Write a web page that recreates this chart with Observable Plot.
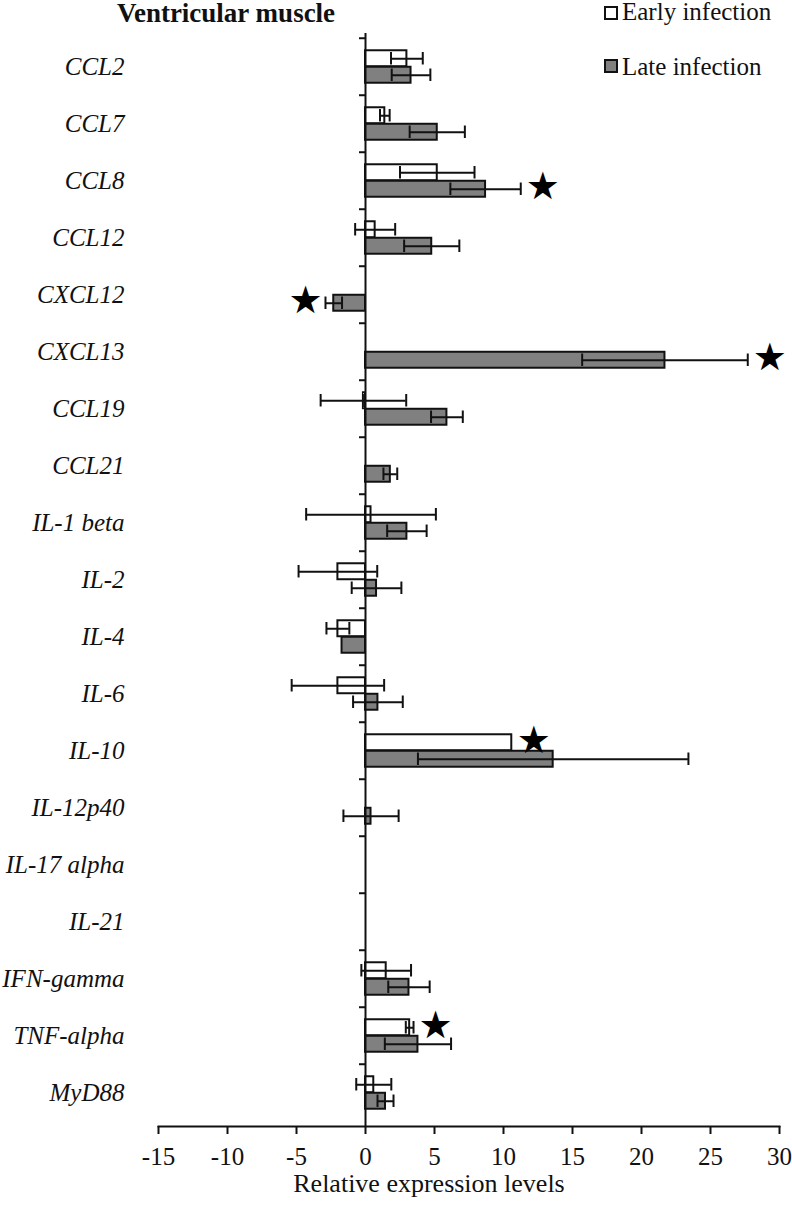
<!DOCTYPE html>
<html>
<head>
<meta charset="utf-8">
<script src="https://cdn.jsdelivr.net/npm/d3@7"></script>
<script src="https://cdn.jsdelivr.net/npm/@observablehq/plot@0.6"></script>
<style>
  html, body { margin: 0; padding: 0; background: #fff; }
  #wrap { position: relative; width: 792px; height: 1206px; font-family: "Liberation Serif", "Times New Roman", serif; color: #111; }
  #chart { position: absolute; left: 0; top: 0; }
  .title { position: absolute; left: 0; width: 452px; top: 0; text-align: center; font-size: 27px; font-weight: bold; line-height: 27px; }
  .leg { position: absolute; left: 604px; font-size: 25px; line-height: 22px; white-space: nowrap; }
  .leg .box { position: absolute; left: 0; width: 10px; height: 10px; border: 2px solid #111; }
  .leg .lab { position: absolute; left: 18px; top: 0; }
</style>
</head>
<body>
<div id="wrap">
  <div id="chart"></div>
  <div class="title">Ventricular muscle</div>
  <div class="leg" style="top:1px"><div class="box" style="top:5px;background:#fff"></div><div class="lab">Early infection</div></div>
  <div class="leg" style="top:56px"><div class="box" style="top:3px;background:#808080"></div><div class="lab">Late infection</div></div>
</div>
<script>
// ---- data ----
const genes = ["CCL2","CCL7","CCL8","CCL12","CXCL12","CXCL13","CCL19","CCL21","IL-1 beta","IL-2","IL-4","IL-6","IL-10","IL-12p40","IL-17 alpha","IL-21","IFN-gamma","TNF-alpha","MyD88"];
const seriesNames = ["Early infection", "Late infection"];
const earlyValues = [3.0, 1.4, 5.2, 0.7, 0, 0, -0.15, 0, 0.4, -2.0, -2.0, -2.0, 10.6, 0, 0, 0, 1.5, 3.2, 0.6];
const earlyErrors = [1.15, 0.35, 2.7, 1.45, 0, 0, 3.1, 0, 4.7, 2.85, 0.83, 3.35, 0, 0, 0, 0, 1.8, 0.28, 1.27];
const lateValues  = [3.3, 5.2, 8.7, 4.8, -2.3, 21.7, 5.9, 1.8, 3.0, 0.8, -1.7, 0.9, 13.6, 0.4, 0, 0, 3.15, 3.8, 1.45];
const lateErrors  = [1.4, 2.0, 2.55, 2.0, 0.6, 6.0, 1.15, 0.5, 1.43, 1.8, 0, 1.8, 9.8, 2.0, 0, 0, 1.5, 2.4, 0.58];
const significant = [["CCL8", "Late infection"], ["CXCL12", "Late infection"], ["CXCL13", "Late infection"], ["IL-10", "Early infection"], ["TNF-alpha", "Early infection"]];
const xTicks = [-15, -10, -5, 0, 5, 10, 15, 20, 25, 30];
const xDomain = [-15, 30];
const xLabel = "Relative expression levels";

// ---- build table ----
const rows = genes.flatMap((g, i) => [
  {gene: g, series: seriesNames[0], value: earlyValues[i], err: earlyErrors[i]},
  {gene: g, series: seriesNames[1], value: lateValues[i], err: lateErrors[i]}
]);
const early = rows.filter(d => d.series === seriesNames[0]);
const late = rows.filter(d => d.series === seriesNames[1]);

const W = 792, H = 1206, mT = 33, mB = 80, mL = 158, mR = 13;
const band = (H - mT - mB) / genes.length;
const half = band / 2, barH = 16.5, capH = 13;
const off = barH / 2;

function seriesMarks(data, isEarly, fill) {
  const bTop = isEarly ? half - barH : half;
  const bBot = isEarly ? half : half - barH;
  const cTop = isEarly ? half - off - capH / 2 : half + off - capH / 2;
  const cBot = isEarly ? half + off - capH / 2 : half - off - capH / 2;
  const withErr = data.filter(d => d.err > 0);
  return [
    Plot.barX(data.filter(d => d.value !== 0), {x: "value", y: "gene", fill, stroke: "#111", strokeWidth: 2, insetTop: bTop, insetBottom: bBot}),
    Plot.ruleY(withErr, {y: "gene", x1: d => d.value - d.err, x2: d => d.value + d.err, dy: isEarly ? -off : off, stroke: "#111", strokeWidth: 2}),
    Plot.tickX(withErr, {x: d => d.value - d.err, y: "gene", insetTop: cTop, insetBottom: cBot, stroke: "#111", strokeWidth: 2}),
    Plot.tickX(withErr, {x: d => d.value + d.err, y: "gene", insetTop: cTop, insetBottom: cBot, stroke: "#111", strokeWidth: 2})
  ];
}

const starMarks = significant.map(([g, s]) => {
  const d = rows.find(r => r.gene === g && r.series === s);
  const neg = d.value < 0;
  return Plot.text([d], {
    x: r => neg ? r.value - r.err : r.value + r.err,
    y: "gene", text: () => "\u2605",
    dx: neg ? -3 : 5, dy: s === seriesNames[0] ? -off - 2 : off - 2,
    textAnchor: neg ? "end" : "start", lineAnchor: "middle",
    fontSize: 38, fontFamily: "DejaVu Sans", fill: "#000"
  });
});

const chart = Plot.plot({
  width: W, height: H,
  marginTop: mT, marginBottom: mB, marginLeft: mL, marginRight: mR,
  style: {fontFamily: '"Liberation Serif", "Times New Roman", serif', background: "transparent", color: "#111"},
  x: {domain: xDomain},
  y: {domain: genes, padding: 0},
  marks: [
    ...seriesMarks(early, true, "#ffffff"),
    ...seriesMarks(late, false, "#808080"),
    Plot.ruleX([0], {stroke: "#111", strokeWidth: 2}),
    Plot.ruleY(genes, {y: d => d, x1: 0, x2: 0, dy: -half, insetLeft: -6, stroke: "#111", strokeWidth: 2}),
    Plot.frame({anchor: "bottom", stroke: "#111", strokeWidth: 2}),
    ...starMarks,
    Plot.axisX({ticks: xTicks, tickFormat: d => String(d), tickSize: 8, tickPadding: 13, fontSize: 25, label: null, strokeWidth: 2}),
    Plot.axisY({tickSize: 0, tickPadding: 34, fontSize: 25, fontStyle: "italic", label: null}),
    Plot.text([xLabel], {frameAnchor: "bottom", dx: -40, dy: 65, fontSize: 26, fill: "#111"})
  ]
});
document.getElementById("chart").appendChild(chart);
</script>
</body>
</html>
